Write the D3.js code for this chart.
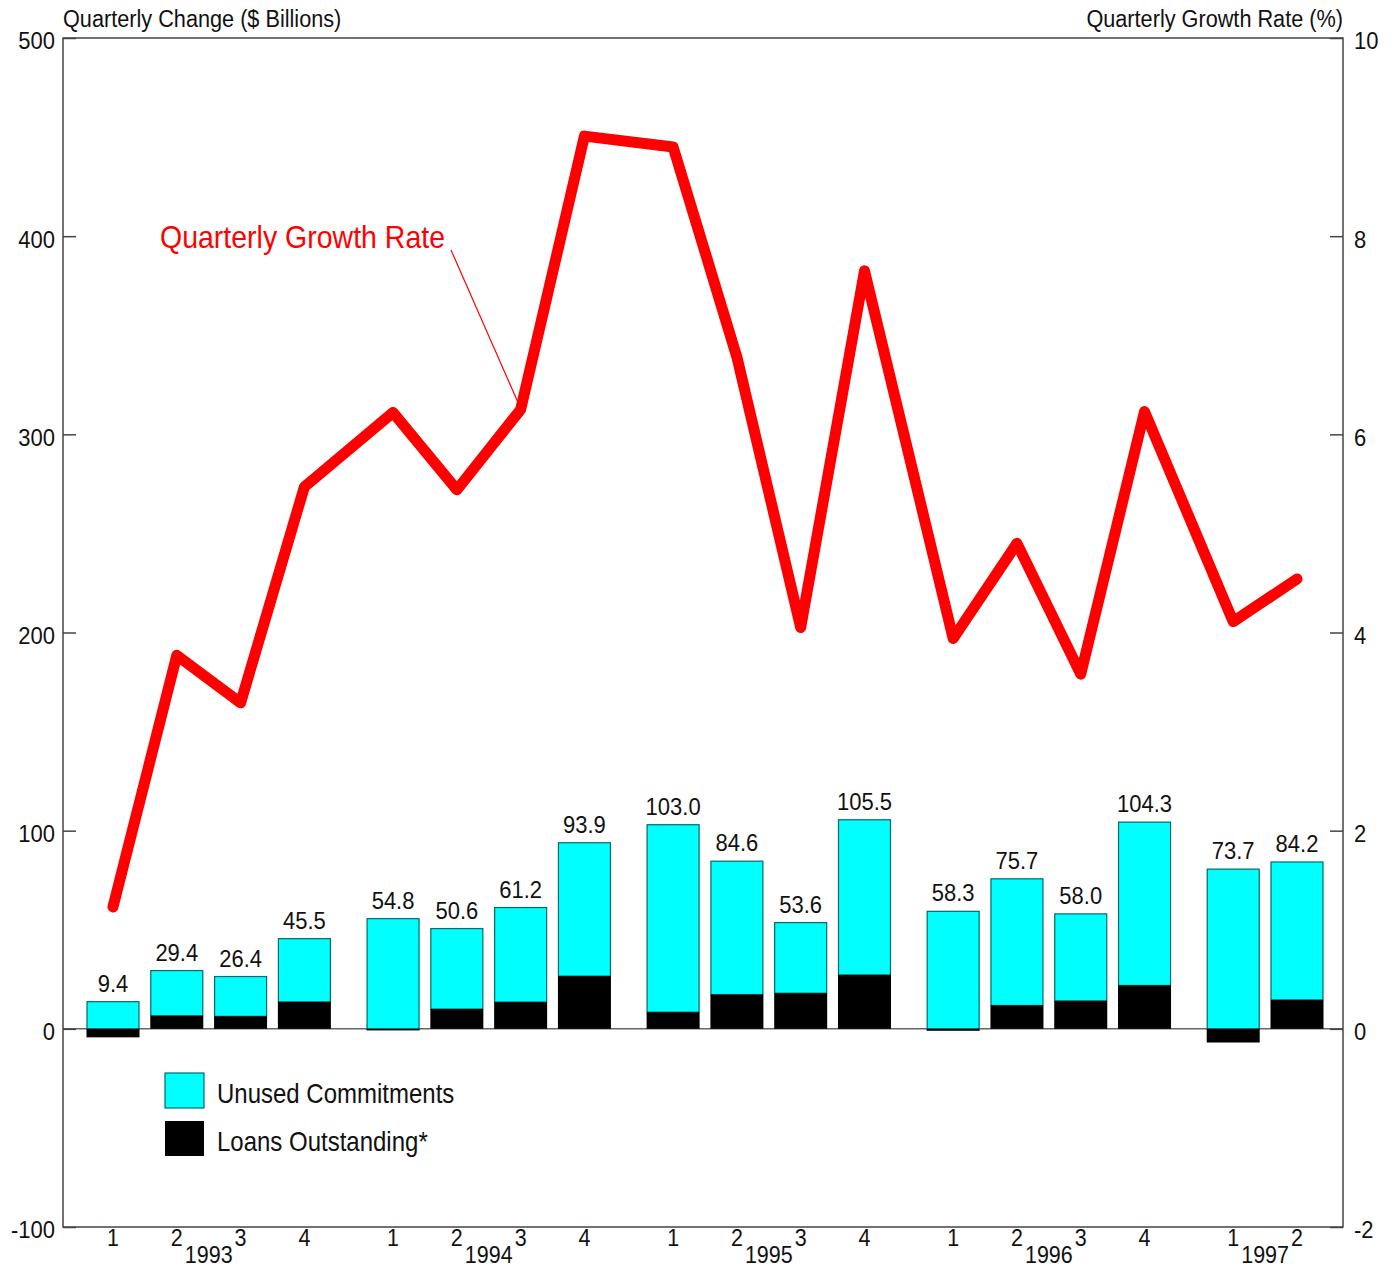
<!DOCTYPE html>
<html>
<head>
<meta charset="utf-8">
<script src="https://cdn.jsdelivr.net/npm/d3@7"></script>
<style>
  body { margin: 0; background: #fff; }
  svg text { font-family: "Liberation Sans", Arial, sans-serif; }
</style>
</head>
<body>
<div id="vizArea"></div>
<script>
var w = 1396
var h = 1268

// DATA ********************************
var years = ["1993", "1994", "1995", "1996", "1997"]
var quarters = ["1","2","3","4", "1","2","3","4", "1","2","3","4", "1","2","3","4", "1","2"]
// total quarterly change ($ billions), printed above each bar
var totals = [9.4, 29.4, 26.4, 45.5, 54.8, 50.6, 61.2, 93.9, 103.0, 84.6, 53.6, 105.5, 58.3, 75.7, 58.0, 104.3, 73.7, 84.2]
// loans outstanding part (black)
var loans = [-4.3, 6.6, 6.3, 13.6, -0.8, 10.0, 13.5, 26.6, 8.4, 17.3, 18.0, 27.2, -1.0, 11.8, 14.1, 21.9, -6.9, 14.6]
// quarterly growth rate (%)
var growth = [1.23, 3.77, 3.29, 5.47, 6.22, 5.44, 6.25, 9.01, 8.90, 6.78, 4.05, 7.65, 3.94, 4.90, 3.58, 6.23, 4.11, 4.54]
var leftTicks = [-100, 0, 100, 200, 300, 400, 500]
var rightTicks = [-2, 0, 2, 4, 6, 8, 10]

// SET-UP ********************************
var pLeft = 63, pRight = 1343, pTop = 38, pBottom = 1227
var stretchY = 1.12

var svg = d3.select("#vizArea").append("svg")
    .attr("width", w)
    .attr("height", h)

// the original type is a little taller than it is wide
function stretch(sel) {
    sel.each(function() {
        var t = d3.select(this)
        var tx = +t.attr("x") || 0, ty = +t.attr("y") || 0
        t.attr("x", 0).attr("y", 0)
            .attr("transform", "translate(" + tx + "," + ty + ") scale(1," + stretchY + ")")
    })
}

// position along x: 4 quarter slots per year plus a small gap between years
var yearSpan = 4.39
function slot(i) { return Math.floor(i / 4) * yearSpan + (i % 4) }
var x = d3.scaleLinear().domain([0, 4 * yearSpan + 1]).range([113, 1297])
var barW = 52

var yL = d3.scaleLinear().domain([-100, 500]).range([pBottom, pTop])
var yR = d3.scaleLinear().domain([-2, 10]).range([pBottom, pTop])

var data = totals.map(function(t, i) {
    var l = loans[i]
    var unused = t - l
    var base = Math.max(0, l)
    return { i: i, total: t, loans: l, unused: unused, cyan0: base, cyan1: base + unused }
})

// zero line
svg.append("line")
    .attr("x1", pLeft).attr("x2", pRight)
    .attr("y1", yL(0)).attr("y2", yL(0))
    .attr("stroke", "#666").attr("stroke-width", 1.5)

// BARS ********************************
svg.append("g").selectAll("rect")
    .data(data)
    .enter()
    .append("rect")
    .attr("x", function(d) { return x(slot(d.i)) - barW / 2 })
    .attr("width", barW)
    .attr("y", function(d) { return yL(d.cyan1) })
    .attr("height", function(d) { return yL(d.cyan0) - yL(d.cyan1) })
    .attr("fill", "#00ffff")
    .attr("stroke", "#006a6a")
    .attr("stroke-width", 1.2)

svg.append("g").selectAll("rect")
    .data(data)
    .enter()
    .append("rect")
    .attr("x", function(d) { return x(slot(d.i)) - barW / 2 - 0.5 })
    .attr("width", barW + 1)
    .attr("y", function(d) { return yL(Math.max(0, d.loans)) })
    .attr("height", function(d) { return Math.abs(yL(d.loans) - yL(0)) })
    .attr("fill", "#000")

// value labels
svg.append("g").selectAll("text")
    .data(data)
    .enter()
    .append("text")
    .attr("x", function(d) { return x(slot(d.i)) })
    .attr("y", function(d) { return yL(d.cyan1) - 10 })
    .attr("text-anchor", "middle")
    .attr("font-size", 22)
    .attr("fill", "#111")
    .text(function(d) { return d.total.toFixed(1) })
    .call(stretch)

// GROWTH LINE ********************************
var line = d3.line()
    .x(function(d, i) { return x(slot(i)) })
    .y(function(d) { return yR(d) })

svg.append("path")
    .datum(growth)
    .attr("d", line)
    .attr("fill", "none")
    .attr("stroke", "#ff0000")
    .attr("stroke-width", 11)
    .attr("stroke-linejoin", "round")
    .attr("stroke-linecap", "round")

// annotation
svg.append("text")
    .attr("x", 160).attr("y", 248)
    .attr("font-size", 28.5)
    .attr("fill", "#ff0000")
    .text("Quarterly Growth Rate")
    .call(stretch)
svg.append("line")
    .attr("x1", 451).attr("y1", 250)
    .attr("x2", x(slot(6)) - 3).attr("y2", yR(growth[6]) - 8)
    .attr("stroke", "#ff0000").attr("stroke-width", 1.2)

// AXES ********************************
svg.append("rect")
    .attr("x", pLeft).attr("y", pTop)
    .attr("width", pRight - pLeft).attr("height", pBottom - pTop)
    .attr("fill", "none")
    .attr("stroke", "#444").attr("stroke-width", 1.5)

var plainNum = function(d) { return String(d) }
var axisL = svg.append("g")
    .attr("transform", "translate(" + pLeft + ",0)")
    .call(d3.axisLeft(yL).tickValues(leftTicks).tickSize(-13).tickFormat(plainNum))
var axisR = svg.append("g")
    .attr("transform", "translate(" + pRight + ",0)")
    .call(d3.axisRight(yR).tickValues(rightTicks).tickSize(-13).tickFormat(plainNum))

;[axisL, axisR].forEach(function(a) {
    a.select(".domain").remove()
    a.selectAll(".tick line").attr("stroke", "#444").attr("stroke-width", 1.5)
    a.selectAll(".tick text")
        .attr("font-size", 22)
        .attr("fill", "#111")
        .attr("y", 3)
        .style("font-family", "'Liberation Sans', Arial, sans-serif")
})
axisL.selectAll(".tick text").attr("x", -8).call(stretch)
axisR.selectAll(".tick text").attr("x", 11).call(stretch)

// quarter and year labels
svg.append("g").selectAll("text")
    .data(quarters)
    .enter()
    .append("text")
    .attr("x", function(d, i) { return x(slot(i)) })
    .attr("y", 1246)
    .attr("text-anchor", "middle")
    .attr("font-size", 21.5)
    .attr("fill", "#111")
    .text(function(d) { return d })
    .call(stretch)

svg.append("g").selectAll("text")
    .data(years)
    .enter()
    .append("text")
    .attr("x", function(d, i) {
        var first = i * 4, last = Math.min(i * 4 + 3, quarters.length - 1)
        return (x(slot(first)) + x(slot(last))) / 2
    })
    .attr("y", 1263)
    .attr("text-anchor", "middle")
    .attr("font-size", 21.5)
    .attr("fill", "#111")
    .text(function(d) { return d })
    .call(stretch)

// axis titles
svg.append("text")
    .attr("x", 63).attr("y", 27)
    .attr("font-size", 21.7).attr("fill", "#111")
    .text("Quarterly Change ($ Billions)")
    .call(stretch)
svg.append("text")
    .attr("x", 1343).attr("y", 27)
    .attr("text-anchor", "end")
    .attr("font-size", 21.7).attr("fill", "#111")
    .text("Quarterly Growth Rate (%)")
    .call(stretch)

// LEGEND ********************************
var legend = [
    { label: "Unused Commitments", fill: "#00ffff", stroke: "#006a6a" },
    { label: "Loans Outstanding*", fill: "#000", stroke: "none" }
]
var lg = svg.append("g").selectAll("g")
    .data(legend)
    .enter()
    .append("g")
    .attr("transform", function(d, i) { return "translate(165," + (1073 + i * 48) + ")" })
lg.append("rect")
    .attr("width", 39).attr("height", 35)
    .attr("fill", function(d) { return d.fill })
    .attr("stroke", function(d) { return d.stroke })
    .attr("stroke-width", 1.2)
lg.append("text")
    .attr("x", 52).attr("y", 30)
    .attr("font-size", 24).attr("fill", "#111")
    .text(function(d) { return d.label })
    .call(stretch)
</script>
</body>
</html>
